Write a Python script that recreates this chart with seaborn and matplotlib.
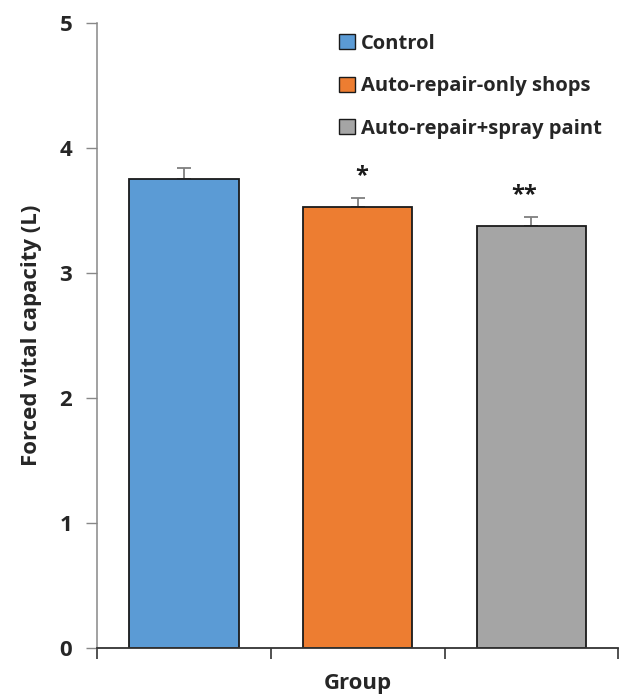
import matplotlib
matplotlib.use("Agg")
import matplotlib.pyplot as plt
import seaborn as sns
import pandas as pd
from matplotlib.patches import Patch

# Group means and standard errors of forced vital capacity
groups = ["Control", "Auto-repair-only shops", "Auto-repair+spray paint"]
fvc = [3.75, 3.53, 3.38]
sem = [0.09, 0.07, 0.07]
marks = ["", "*", "**"]
colors = ["#5B9BD5", "#ED7D31", "#A5A5A5"]

sns.set_theme(style="white")
plt.rcParams["font.family"] = ["Open Sans", "DejaVu Sans"]
plt.rcParams["font.weight"] = "bold"

df = pd.DataFrame({"group": groups, "fvc": fvc})

fig = plt.figure(figsize=(6.2, 6.98), dpi=100)
ax = fig.add_axes([0.157, 0.0716, 0.84, 0.8954])

sns.barplot(data=df, x="group", y="fvc", hue="group", palette=colors,
            saturation=1, width=0.63, edgecolor="#1a1a1a", linewidth=1.3,
            legend=False, errorbar=None, ax=ax, zorder=2)

# One-sided error bars and significance markers
offsets = [0.0, 0.02, -0.04]
for i, (v, e, m) in enumerate(zip(fvc, sem, marks)):
    ax.errorbar(i, v, yerr=[[0], [e]], fmt="none", ecolor="#7f7f7f",
                elinewidth=1.3, capsize=5, capthick=1.3, zorder=1)
    if m:
        ax.text(i + offsets[i], v + e + 0.08, m, ha="center", va="bottom",
                fontsize=17, fontweight="bold", color="#1a1a1a")

ax.set_xlim(-0.5, 2.5)
ax.set_ylim(0, 5)
ax.set_yticks([0, 1, 2, 3, 4, 5])
ax.set_xticks([-0.5, 0.5, 1.5, 2.5])
ax.set_xticklabels([])
ax.tick_params(axis="y", direction="out", length=8, width=1, color="#888888",
               labelsize=16, pad=10, left=True)
ax.tick_params(axis="x", direction="out", length=8, width=1.2, color="#333333",
               bottom=True)
for lbl in ax.get_yticklabels():
    lbl.set_fontweight("bold")

for side in ["top", "right"]:
    ax.spines[side].set_visible(False)
ax.spines["left"].set_color("#888888")
ax.spines["left"].set_linewidth(1.1)
ax.spines["bottom"].set_color("#333333")
ax.spines["bottom"].set_linewidth(1.3)

ax.set_ylabel("Forced vital capacity (L)", fontsize=16, fontweight="bold")
ax.yaxis.set_label_coords(-0.106, 0.5)
ax.set_xlabel("Group", fontsize=16, fontweight="bold", va="center")
ax.xaxis.set_label_coords(0.5, -0.057)

handles = [Patch(facecolor=c, edgecolor="#1a1a1a", linewidth=1.0, label=g)
           for c, g in zip(colors, groups)]
ax.legend(handles=handles, loc="upper left", bbox_to_anchor=(0.43, 1.012),
          frameon=False, handlelength=0.75, handleheight=0.75,
          handletextpad=0.3, labelspacing=1.12,
          prop={"weight": "bold", "size": 14.5})

fig.savefig("out.png", dpi=100)
